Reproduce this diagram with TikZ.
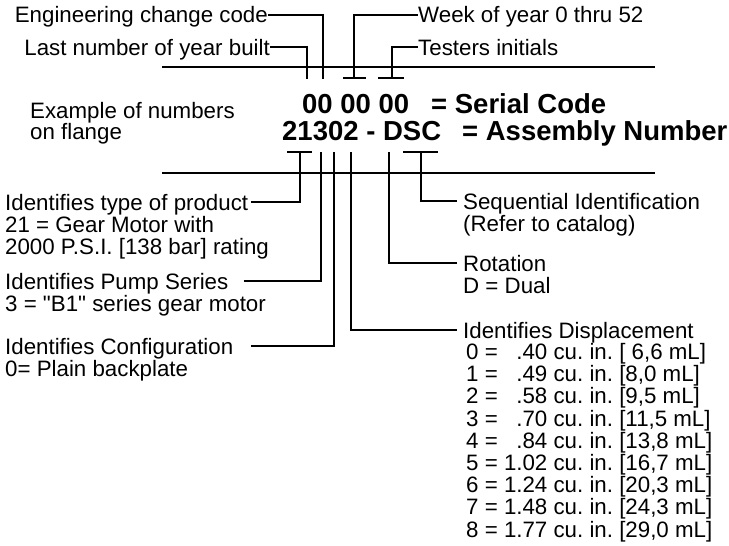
\documentclass[tikz,border=0pt]{standalone}
\usepackage{fontspec}
\setmainfont{Liberation Sans}[Ligatures=TeXOff]
\frenchspacing
\begin{document}
\begin{tikzpicture}[x=1pt,y=-1pt,
  txt/.style={inner sep=0pt, font=\fontsize{22.3}{22.3}\selectfont, text height=16pt, text depth=0pt},
  big/.style={inner sep=0pt, font=\fontsize{27.5}{27.5}\selectfont\bfseries, text height=19.7pt, text depth=0pt},
  ln/.style={line width=2.6pt}]
\useasboundingbox[fill=white] (0,0) rectangle (729,546);

% top labels
\node[txt,anchor=base east] (eng) at (268,23) {Engineering change code};
\node[txt,anchor=base east] (last) at (270,55) {Last number of year built};
\node[txt,anchor=base west] (week) at (418,23) {Week of year 0 thru 52};
\node[txt,anchor=base west] (test) at (418,55) {Testers initials};

\coordinate (engE) at (323,79);
\coordinate (lastE) at (307,79);
\coordinate (weekE) at (354,78);
\coordinate (testE) at (392,78);
\coordinate (weekL) at (343,78); \coordinate (weekR) at (366,78);
\coordinate (testL) at (378,78); \coordinate (testR) at (404,78);

\draw[ln] (eng.east) -| (engE);
\draw[ln] (last.east) -| (lastE);
\draw[ln] (week.west) -| (weekE);
\draw[ln] (weekL) -- (weekR);
\draw[ln] (test.west) -| (testE);
\draw[ln] (testL) -- (testR);

% rules
\coordinate (topL) at (162,67); \coordinate (topR) at (655,67);
\coordinate (botL) at (162,173); \coordinate (botR) at (655,173);
\draw[ln] (topL) -- (topR);
\draw[ln] (botL) -- (botR);

% centre texts
\node[txt,anchor=base west] (ex1) at (30,118) {Example of numbers};
\node[txt,anchor=base west] (ex2) at (30,139) {on flange};
\node[big,anchor=base west] (serial) at (302,113) {00 00 00};
\node[big,anchor=base west] (serialeq) at (431,113) {= Serial Code};
\node[big,anchor=base west] (assy) at (282,140) {21302 - DSC};
\node[big,anchor=base west] (assyeq) at (462,140) {= Assembly Number};

% bottom left labels
\node[txt,anchor=base west] (type1) at (5,210) {Identifies type of product};
\node[txt,anchor=base west] (type2) at (5,232) {21 = Gear Motor with};
\node[txt,anchor=base west] (type3) at (5,254) {2000 P.S.I. [138 bar] rating};
\node[txt,anchor=base west] (pump1) at (5,289) {Identifies Pump Series};
\node[txt,anchor=base west] (pump2) at (5,311) {3 = "B1" series gear motor};
\node[txt,anchor=base west] (conf1) at (5,354) {Identifies Configuration};
\node[txt,anchor=base west] (conf2) at (5,376) {0= Plain backplate};

% bottom right labels
\node[txt,anchor=base west] (seq1) at (463,209) {Sequential Identification};
\node[txt,anchor=base west] (seq2) at (463,231) {(Refer to catalog)};
\node[txt,anchor=base west] (rot1) at (463,271) {Rotation};
\node[txt,anchor=base west] (rot2) at (463,293) {D = Dual};
\node[txt,anchor=base west] (disp1) at (463,338) {Identifies Displacement};
\node[txt,anchor=base west] (d0) at (466,359.5) {0 = \hphantom{1}.40 cu. in. [ 6,6 mL]};
\node[txt,anchor=base west] (d1) at (466,381.7) {1 = \hphantom{1}.49 cu. in. [8,0 mL]};
\node[txt,anchor=base west] (d2) at (466,403.9) {2 = \hphantom{1}.58 cu. in. [9,5 mL]};
\node[txt,anchor=base west] (d3) at (466,426.1) {3 = \hphantom{1}.70 cu. in. [11,5 mL]};
\node[txt,anchor=base west] (d4) at (466,448.3) {4 = \hphantom{1}.84 cu. in. [13,8 mL]};
\node[txt,anchor=base west] (d5) at (466,470.5) {5 = 1.02 cu. in. [16,7 mL]};
\node[txt,anchor=base west] (d6) at (466,492.7) {6 = 1.24 cu. in. [20,3 mL]};
\node[txt,anchor=base west] (d7) at (466,514.9) {7 = 1.48 cu. in. [24,3 mL]};
\node[txt,anchor=base west] (d8) at (466,537.1) {8 = 1.77 cu. in. [29,0 mL]};

% bottom connectors
\coordinate (typeT) at (300,152);
\coordinate (typeTL) at (287,152); \coordinate (typeTR) at (312,152);
\coordinate (pumpT) at (321,152);
\coordinate (confT) at (334,152);
\coordinate (dispT) at (351,152);
\coordinate (rotT) at (389,152);
\coordinate (seqT) at (421,152);
\coordinate (seqTL) at (403,152); \coordinate (seqTR) at (438,152);

\draw[ln] ([xshift=3pt]type1.east) -| (typeT);
\draw[ln] (typeTL) -- (typeTR);
\draw[ln] ([xshift=15pt]pump1.east) -| (pumpT);
\draw[ln] ([xshift=18pt]conf1.east) -| (confT);
\draw[ln] ([xshift=-6pt]disp1.west) -| (dispT);
\draw[ln] ([xshift=-6pt]rot1.west) -| (rotT);
\draw[ln] ([xshift=-6pt]seq1.west) -| (seqT);
\draw[ln] (seqTL) -- (seqTR);
\end{tikzpicture}
\end{document}
